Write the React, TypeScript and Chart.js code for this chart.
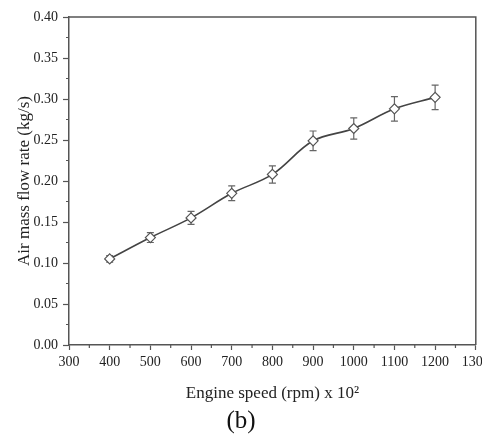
import React, { useEffect, useRef } from "react";
import { Chart, registerables } from "chart.js";

Chart.register(...registerables);

const speeds = [400, 500, 600, 700, 800, 900, 1000, 1100, 1200];
const flowRates = [0.105, 0.131, 0.155, 0.185, 0.208, 0.249, 0.264, 0.288, 0.302];
const flowErrors = [0.004, 0.006, 0.008, 0.009, 0.0105, 0.012, 0.013, 0.015, 0.015];

const xTitle = "Engine speed (rpm) x 10\u00B2";
const yTitle = "Air mass flow rate (kg/s)";
const panelLabel = "(b)";

const AXIS = "#555555";
const FONT = "'Liberation Serif', 'Times New Roman', serif";

const extrasPlugin = {
  id: "extras",
  beforeDatasetsDraw(chart: any) {
    const ctx = chart.ctx;
    const xs = chart.scales.x;
    const ys = chart.scales.y;
    ctx.save();
    ctx.strokeStyle = "#666666";
    ctx.lineWidth = 1.2;
    speeds.forEach((s, i) => {
      const x = xs.getPixelForValue(s);
      const yt = ys.getPixelForValue(flowRates[i] + flowErrors[i]);
      const yb = ys.getPixelForValue(flowRates[i] - flowErrors[i]);
      ctx.beginPath();
      ctx.moveTo(x, yt);
      ctx.lineTo(x, yb);
      ctx.moveTo(x - 3.5, yt);
      ctx.lineTo(x + 3.5, yt);
      ctx.moveTo(x - 3.5, yb);
      ctx.lineTo(x + 3.5, yb);
      ctx.stroke();
    });
    ctx.restore();
  },
  afterDraw(chart: any) {
    const ctx = chart.ctx;
    const a = chart.chartArea;
    const xs = chart.scales.x;
    const ys = chart.scales.y;
    ctx.save();
    ctx.strokeStyle = AXIS;
    ctx.lineWidth = 1.5;
    ctx.beginPath();
    ctx.moveTo(a.left, a.top);
    ctx.lineTo(a.right, a.top);
    ctx.lineTo(a.right, a.bottom);
    ctx.stroke();
    ctx.lineWidth = 1.2;
    ctx.beginPath();
    for (let v = 350; v < 1300; v += 100) {
      const x = xs.getPixelForValue(v);
      ctx.moveTo(x, a.bottom);
      ctx.lineTo(x, a.bottom + 3);
    }
    for (let v = 0.025; v < 0.4; v += 0.05) {
      const y = ys.getPixelForValue(v);
      ctx.moveTo(a.left, y);
      ctx.lineTo(a.left - 3, y);
    }
    ctx.stroke();
    ctx.restore();
  },
};

function ChartView() {
  const ref = useRef<HTMLCanvasElement | null>(null);
  useEffect(() => {
    if (!ref.current) return;
    const chart = new Chart(ref.current, {
      type: "line",
      data: {
        datasets: [
          {
            data: speeds.map((s, i) => ({ x: s, y: flowRates[i] })),
            borderColor: "#444444",
            borderWidth: 1.6,
            tension: 0.35,
            pointStyle: "rectRot",
            pointRadius: 5,
            pointBackgroundColor: "#ffffff",
            pointBorderColor: "#555555",
            pointBorderWidth: 1.2,
            fill: false,
          },
        ],
      },
      options: {
        animation: false,
        responsive: false,
        maintainAspectRatio: false,
        layout: { padding: { top: 17, right: 5, left: 0, bottom: 0 } },
        plugins: {
          legend: { display: false },
          tooltip: { enabled: false },
        },
        scales: {
          x: {
            type: "linear",
            min: 300,
            max: 1300,
            ticks: {
              stepSize: 100,
              color: "#222",
              padding: 4,
              maxRotation: 0,
              autoSkip: false,
              font: { family: FONT, size: 14 },
              callback: (v: any) => String(v),
            },
            grid: {
              drawOnChartArea: false,
              drawTicks: true,
              tickLength: 5,
              tickColor: AXIS,
              tickWidth: 1.2,
            },
            border: { display: true, color: AXIS, width: 1.5 },
            title: {
              display: true,
              text: xTitle,
              color: "#222",
              font: { family: FONT, size: 17 },
              padding: { top: 0, bottom: 35 },
            },
            afterFit(scale: any) {
              scale.height = 94;
              scale.paddingLeft = 0;
              scale.paddingRight = 0;
            },
          },
          y: {
            type: "linear",
            min: 0,
            max: 0.4,
            ticks: {
              stepSize: 0.05,
              color: "#222",
              padding: 5,
              font: { family: FONT, size: 14 },
              callback: (v: any) => Number(v).toFixed(2),
            },
            grid: {
              drawOnChartArea: false,
              drawTicks: true,
              tickLength: 6,
              tickColor: AXIS,
              tickWidth: 1.2,
            },
            border: { display: true, color: AXIS, width: 1.5 },
            title: {
              display: true,
              text: yTitle,
              color: "#222",
              font: { family: FONT, size: 17 },
              padding: { top: 14, bottom: 0 },
            },
            afterFit(scale: any) {
              scale.width = 69;
            },
          },
        },
      },
      plugins: [extrasPlugin],
    });
    return () => chart.destroy();
  }, []);
  return (
    <div style={{ position: "fixed", left: 0, top: 0, width: 482, height: 439, background: "#fff" }}>
      <canvas ref={ref} width={482} height={439} style={{ display: "block" }} />
      <div
        style={{
          position: "absolute",
          left: 0,
          width: 482,
          top: 404,
          textAlign: "center",
          fontFamily: FONT,
          fontSize: 25,
          color: "#111",
          lineHeight: "32px",
        }}
      >
        {panelLabel}
      </div>
    </div>
  );
}

export default function App() {
  return <ChartView />;
}
